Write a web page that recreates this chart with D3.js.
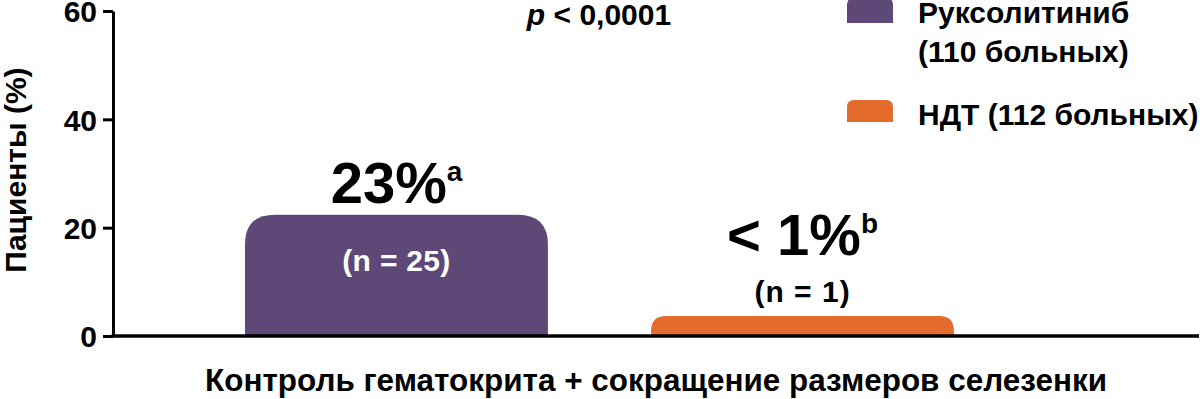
<!DOCTYPE html>
<html>
<head>
<meta charset="utf-8">
<script src="https://cdn.jsdelivr.net/npm/d3@7"></script>
<style>
  body { margin: 0; background: #fff; }
  text { font-family: "Liberation Sans", Arial, sans-serif; font-weight: bold; fill: #000; }
</style>
</head>
<body>
<div id="chart"></div>
<script>
// data
const groups = ["Руксолитиниб", "НДТ"];
const values = [22.4, 3.7];
const valueLabels = ["23%", "< 1%"];
const valueSups = ["a", "b"];
const countLabels = ["(n = 25)", "(n = 1)"];
const legendLines = [["Руксолитиниб", "(110 больных)"], ["НДТ (112 больных)"]];
const yTicks = [0, 20, 40, 60];
const colors = ["#5e4878", "#e36b2c"];
const xTitle = "Контроль гематокрита + сокращение размеров селезенки";
const yTitle = "Пациенты (%)";
const pText = "< 0,0001";

const W = 1200, H = 399;
const svg = d3.select("#chart").append("svg")
    .attr("width", W).attr("height", H);

const y = d3.scaleLinear().domain([0, 60]).range([336, 11]);
const x = d3.scaleBand().domain(groups).range([245, 954]).paddingInner(0.254).paddingOuter(0);
const color = d3.scaleOrdinal().domain(groups).range(colors);

// bar with rounded top corners
function topRounded(x0, y0, w, h, r) {
    r = Math.min(r, h, w / 2);
    return `M${x0},${y0 + h}V${y0 + r}Q${x0},${y0} ${x0 + r},${y0}` +
        `H${x0 + w - r}Q${x0 + w},${y0} ${x0 + w},${y0 + r}V${y0 + h}Z`;
}

const data = groups.map((g, i) => ({ g, v: values[i], lab: valueLabels[i], sup: valueSups[i], n: countLabels[i] }));

svg.append("g").selectAll("path")
    .data(data)
    .join("path")
    .attr("d", d => {
        const h = y(0) - y(d.v);
        return topRounded(x(d.g), y(d.v), x.bandwidth(), h, h > 60 ? 30 : 15);
    })
    .attr("fill", d => color(d.g));

// Y axis
const yAxis = svg.append("g")
    .attr("transform", "translate(113,0)")
    .call(d3.axisLeft(y).tickValues(yTicks).tickSize(10).tickSizeOuter(0).tickPadding(6));
yAxis.select(".domain").attr("stroke", "#000").attr("stroke-width", 3);
yAxis.selectAll(".tick line").attr("stroke", "#000").attr("stroke-width", 3);
yAxis.selectAll(".tick text")
    .style("font-family", "'Liberation Sans', Arial, sans-serif")
    .style("font-weight", "bold")
    .style("font-size", "30px")
    .attr("dy", "0.36em")
    .attr("fill", "#000");

// X axis line
svg.append("line")
    .attr("x1", 111.5).attr("x2", 1199)
    .attr("y1", y(0)).attr("y2", y(0))
    .attr("stroke", "#000").attr("stroke-width", 3.5);

// value labels
data.forEach(d => {
    const cx = x(d.g) + x.bandwidth() / 2;
    const top = y(d.v);
    const tall = (y(0) - top) > 60;
    const nBase = tall ? top + 56 : top - 14;
    const vBase = tall ? top - 12 : nBase - 47;

    const t = svg.append("text")
        .attr("x", cx).attr("y", vBase)
        .attr("text-anchor", "middle")
        .style("font-size", "58px");
    t.append("tspan").text(d.lab);
    t.append("tspan").text(d.sup)
        .style("font-size", "28px")
        .attr("dy", -22);

    svg.append("text")
        .attr("x", cx).attr("y", nBase)
        .attr("text-anchor", "middle")
        .style("font-size", "30px")
        .style("letter-spacing", tall ? "0.3px" : "1px")
        .style("fill", tall ? "#fff" : "#000")
        .text(d.n);
});

// p value
const p = svg.append("text")
    .attr("x", 599).attr("y", 25)
    .attr("text-anchor", "middle")
    .style("font-size", "30px");
p.append("tspan").text("p").style("font-style", "italic");
p.append("tspan").text(" " + pText);

// legend
const legend = svg.append("g").attr("transform", "translate(847,0)");
const legendY = [-2, 100];
groups.forEach((g, i) => {
    legend.append("path")
        .attr("d", topRounded(0, legendY[i], 46, i === 0 ? 25 : 22, 7))
        .attr("fill", color(g));
    legendLines[i].forEach((line, j) => {
        legend.append("text")
            .attr("x", 71)
            .attr("y", legendY[i] + 25 + j * 39)
            .style("font-size", "30px")
            .text(line);
    });
});

// axis titles
svg.append("text")
    .attr("transform", "translate(26,170) rotate(-90)")
    .attr("text-anchor", "middle")
    .style("font-size", "30px")
    .text(yTitle);

svg.append("text")
    .attr("x", 205).attr("y", 391)
    .attr("textLength", 902)
    .attr("lengthAdjust", "spacingAndGlyphs")
    .style("font-size", "32px")
    .text(xTitle);
</script>
</body>
</html>
